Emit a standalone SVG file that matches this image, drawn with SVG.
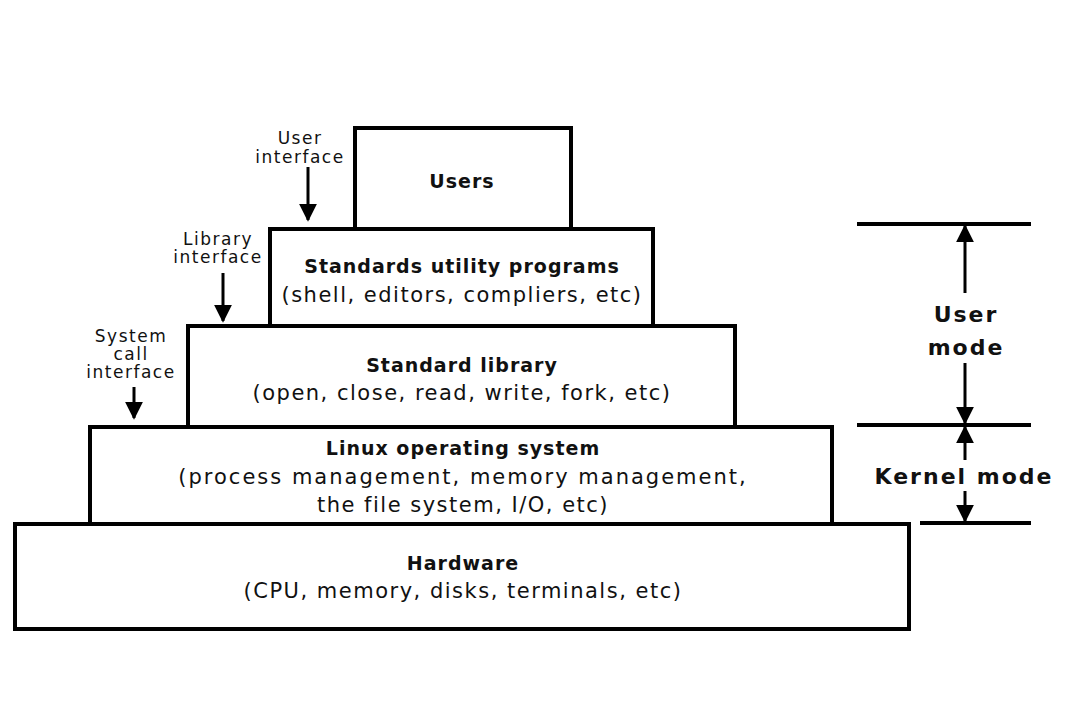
<svg xmlns="http://www.w3.org/2000/svg" width="1070" height="720" viewBox="0 0 1070 720">
<defs>
<style>
.box{fill:#fff;stroke:#000;stroke-width:4}
.t{font-family:"DejaVu Sans","Liberation Sans",Arial,sans-serif;fill:#111;text-anchor:middle}
.b{font-weight:bold;font-size:19px;letter-spacing:1px}
.n{font-size:21px;letter-spacing:1.5px}
.w{letter-spacing:2px}
.s{font-size:17px;letter-spacing:1.5px}
.m{font-weight:bold;font-size:22px;letter-spacing:2px}
.ln{stroke:#000;stroke-width:3;fill:none}
.hl{stroke:#000;stroke-width:4}
</style>
<marker id="ah" viewBox="0 0 10 10" refX="9" refY="5" markerWidth="6" markerHeight="6" orient="auto-start-reverse" markerUnits="strokeWidth">
<path d="M0,0 L10,5 L0,10 z" fill="#000"/>
</marker>
</defs>
<rect width="1070" height="720" fill="#fff"/>
<g id="hardware">
<rect class="box" x="15" y="524" width="894" height="105"/>
<text class="t b" x="463" y="570">Hardware</text>
<text class="t n" x="463" y="598">(CPU, memory, disks, terminals, etc)</text>
</g>
<g id="linux">
<rect class="box" x="90" y="427" width="742" height="97"/>
<text class="t b" x="463" y="455">Linux operating system</text>
<text class="t n w" x="463" y="484">(process management, memory management,</text>
<text class="t n" x="463" y="512">the file system, I/O, etc)</text>
</g>
<g id="stdlib">
<rect class="box" x="188" y="326" width="547" height="101"/>
<text class="t b" x="462" y="372">Standard library</text>
<text class="t n" x="462" y="400">(open, close, read, write, fork, etc)</text>
</g>
<g id="utility">
<rect class="box" x="270" y="229" width="383" height="97"/>
<text class="t b" x="462" y="273">Standards utility programs</text>
<text class="t n" x="462" y="302">(shell, editors, compliers, etc)</text>
</g>
<g id="users">
<rect class="box" x="355" y="128" width="216" height="101"/>
<text class="t b" x="462" y="188">Users</text>
</g>
<g id="interface-labels">
<text class="t s" x="300" y="144">User</text>
<text class="t s" x="300" y="163">interface</text>
<text class="t s" x="218" y="245">Library</text>
<text class="t s" x="218" y="263">interface</text>
<text class="t s" x="131" y="342">System</text>
<text class="t s" x="131" y="360">call</text>
<text class="t s" x="131" y="378">interface</text>
</g>
<g id="mode-labels">
<line class="hl" x1="857" y1="224" x2="1031" y2="224"/>
<line class="hl" x1="857" y1="425" x2="1031" y2="425"/>
<line class="hl" x1="920" y1="523" x2="1031" y2="523"/>
<text class="t m" x="966" y="322">User</text>
<text class="t m" x="966" y="355">mode</text>
<text class="t m" x="964" y="484">Kernel mode</text>
</g>
<g id="connectors">
<line class="ln" x1="308" y1="167" x2="308" y2="220" marker-end="url(#ah)"/>
<line class="ln" x1="223" y1="273" x2="223" y2="321" marker-end="url(#ah)"/>
<line class="ln" x1="134" y1="387" x2="134" y2="418" marker-end="url(#ah)"/>
<line class="ln" x1="965" y1="293" x2="965" y2="226" marker-end="url(#ah)"/>
<line class="ln" x1="965" y1="363" x2="965" y2="423" marker-end="url(#ah)"/>
<line class="ln" x1="965" y1="460" x2="965" y2="427" marker-end="url(#ah)"/>
<line class="ln" x1="965" y1="491" x2="965" y2="521" marker-end="url(#ah)"/>
</g>
</svg>
